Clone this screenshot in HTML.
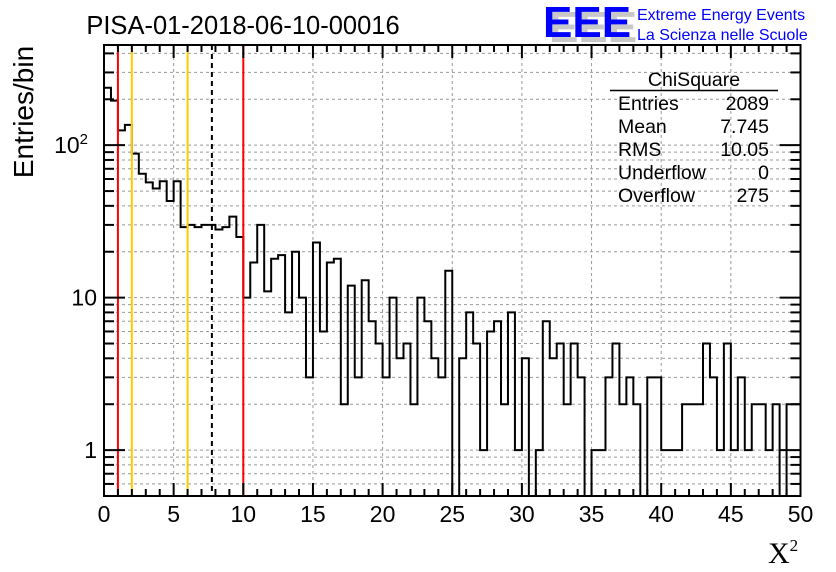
<!DOCTYPE html>
<html><head><meta charset="utf-8"><style>
html,body{margin:0;padding:0;background:#fff;}
svg{display:block;font-family:"Liberation Sans",sans-serif;}
</style></head><body>
<svg id="c" width="836" height="572" viewBox="0 0 836 572" xmlns="http://www.w3.org/2000/svg">
<rect width="836" height="572" fill="#fff"/>
<g id="grid"></g>
<g id="marks"></g>
<g id="vlines"></g>
<g id="axes"></g>
<text x="243" y="34" font-size="25.5" text-anchor="middle">PISA-01-2018-06-10-00016</text>
<text transform="translate(33,112) rotate(-90)" font-size="28" text-anchor="middle">Entries/bin</text>
<text x="768" y="563" font-size="30" font-family="Liberation Serif,serif">X<tspan font-size="17" dy="-12">2</tspan></text>
<g>
<text x="549" y="42" font-size="44" font-weight="bold" fill="#c8c8c8">EEE</text>
<text x="543" y="37" font-size="44" font-weight="bold" fill="#0000ff">EEE</text>
<text x="637" y="20" font-size="16" fill="#0000ff">Extreme Energy Events</text>
<text x="637" y="40" font-size="16" fill="#0000ff">La Scienza nelle Scuole</text>
</g>
<g font-size="19.5">
<text x="694" y="86" text-anchor="middle">ChiSquare</text>
<line x1="610" y1="90.5" x2="778" y2="90.5" stroke="#000" stroke-width="1.5"/>
<text x="618" y="110">Entries</text><text x="769" y="110" text-anchor="end">2089</text>
<text x="618" y="133">Mean</text><text x="769" y="133" text-anchor="end">7.745</text>
<text x="618" y="156">RMS</text><text x="769" y="156" text-anchor="end">10.05</text>
<text x="618" y="179">Underflow</text><text x="769" y="179" text-anchor="end">0</text>
<text x="618" y="202">Overflow</text><text x="769" y="202" text-anchor="end">275</text>
</g>
</svg>
<script>
const counts = [238,196,125,136,88,65,57,52,58,43,58,29,30,29,30,30,28,29,34,25,
10,17,30,11,18,19,8,20,10,3,23,6,17,18,2,12,3,13,7,5,
3,10,4,5,2,10,7,4,3,15,0,4,8,5,1,6,7,2,8,1,
4,0,1,7,4,5,2,5,3,0,1,1,3,5,2,3,2,0,3,3,
1,1,1,2,2,2,5,3,1,5,1,3,1,2,2,1,2,0,2,2];
const xTicks = [0,5,10,15,20,25,30,35,40,45,50];
const cutLinesRed = [1,10];
const cutLinesOrange = [2,6];
const meanLine = [7.745];
const binWidth = 0.5;
const X0=104,X1=800.5,Y0=45,Y1=496,XMIN=0,XMAX=50,YMIN=0.5,YMAX=454;
const NS="http://www.w3.org/2000/svg";
function sx(v){return X0+(v-XMIN)/(XMAX-XMIN)*(X1-X0);}
function sy(v){if(v<=0)return Y1;return Y1-(Math.log10(v)-Math.log10(YMIN))/(Math.log10(YMAX)-Math.log10(YMIN))*(Y1-Y0);}
function mk(tag,attrs,parent){const e=document.createElementNS(NS,tag);for(const k in attrs)e.setAttribute(k,attrs[k]);parent.appendChild(e);return e;}
const grid=document.getElementById('grid'),marks=document.getElementById('marks'),vl=document.getElementById('vlines'),ax=document.getElementById('axes');
xTicks.forEach(t=>{if(t>XMIN&&t<XMAX){const l=mk('line',{x1:sx(t),x2:sx(t),y1:Y0,y2:Y1,stroke:'#999','stroke-dasharray':'3,3','stroke-width':1},grid);

}});
const yMinor=[];
for(let d=-1;d<=2;d++)for(let m=1;m<=9;m++){const v=m*Math.pow(10,d);if(v>YMIN&&v<YMAX)yMinor.push(v);}
yMinor.forEach(v=>{const l=mk('line',{x1:X0,x2:X1,y1:sy(v),y2:sy(v),stroke:'#999','stroke-dasharray':'3,3','stroke-width':1},grid);

});
let d='M'+sx(0)+','+Y1;
counts.forEach((c,i)=>{const y=sy(c);d+=' L'+sx(i*binWidth)+','+y+' L'+sx((i+1)*binWidth)+','+y;});
d+=' L'+sx(counts.length*binWidth)+','+Y1;
const p=mk('path',{d:d,fill:'none',stroke:'#000','stroke-width':2},marks);


cutLinesRed.forEach(v=>{const l=mk('line',{x1:sx(v),x2:sx(v),y1:Y0,y2:Y1,stroke:'#ff0000','stroke-width':2},vl);

});
cutLinesOrange.forEach(v=>{const l=mk('line',{x1:sx(v),x2:sx(v),y1:Y0,y2:Y1,stroke:'#ffcc00','stroke-width':2},vl);

});
meanLine.forEach(v=>{const l=mk('line',{x1:sx(v),x2:sx(v),y1:Y0,y2:Y1,stroke:'#000','stroke-width':2,'stroke-dasharray':'5,4'},vl);

});
const fr=mk('rect',{x:X0,y:Y0,width:X1-X0,height:Y1-Y0,fill:'none',stroke:'#000','stroke-width':2},ax);


for(let t=XMIN;t<=XMAX;t+=1){const major=t%5===0;const len=major?13:7;const x=sx(t);
mk('line',{x1:x,x2:x,y1:Y1,y2:Y1-len,stroke:'#000','stroke-width':2},ax);
mk('line',{x1:x,x2:x,y1:Y0,y2:Y0+len,stroke:'#000','stroke-width':2},ax);}
xTicks.forEach(t=>{const tx=mk('text',{x:sx(t),y:522,'font-size':23,'text-anchor':'middle'},ax);tx.textContent=String(t);

});
yMinor.forEach(v=>{const major=[1,10,100].includes(Math.round(v*1000)/1000);const len=major?21:10;const y=sy(v);
mk('line',{x1:X0,x2:X0+len,y1:y,y2:y,stroke:'#000','stroke-width':2},ax);
mk('line',{x1:X1,x2:X1-len,y1:y,y2:y,stroke:'#000','stroke-width':2},ax);});
const yl=[[100,'10','2'],[10,'10',''],[1,'1','']];
yl.forEach(a=>{const t=mk('text',{x:a[2]?88:97,y:sy(a[0])+8,'font-size':23,'text-anchor':'end'},ax);t.textContent=a[1];


if(a[2]){const s=mk('tspan',{'font-size':15,dy:-9},t);s.textContent=a[2];}});
</script>
</body></html>
